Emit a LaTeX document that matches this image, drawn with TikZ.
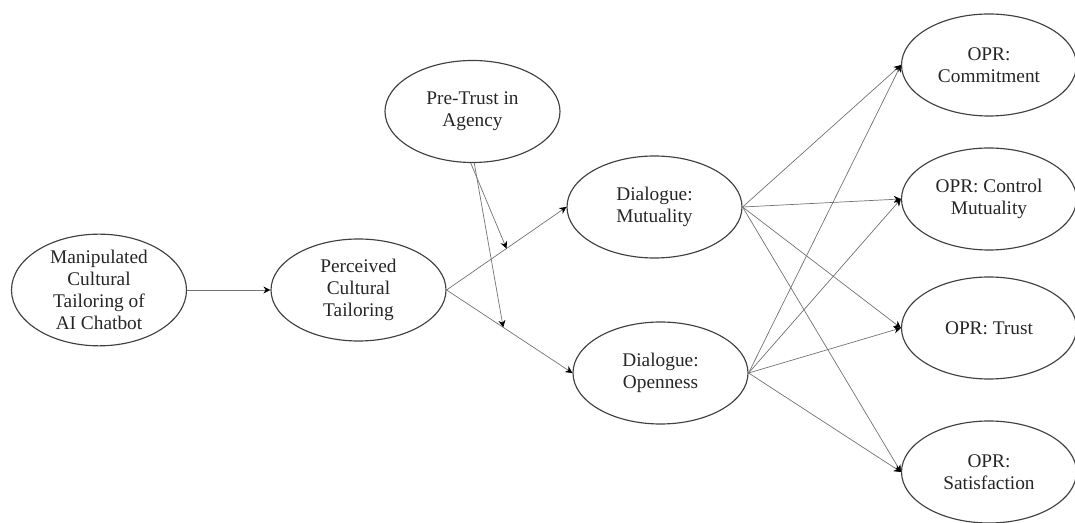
\documentclass[tikz,border=0pt]{standalone}
\usepackage{fontspec}
\setmainfont{Liberation Serif}
\usetikzlibrary{arrows.meta,shapes.geometric}

\begin{document}
\begin{tikzpicture}[>={Stealth[length=4pt,width=4pt,color=black]},
  construct/.style={ellipse, draw=black!75, line width=0.65pt, inner sep=0pt,
    minimum width=3.5cm, minimum height=2.04cm, align=center, text=black!85,
    font=\fontsize{11}{12.4}\selectfont},
  path/.style={->, draw=black!55, line width=0.4pt}]
  \useasboundingbox (0,0) rectangle (21.5,-10.46);
  % constructs
  \node[construct] (manip) at (1.98,-5.80) {Manipulated\\Cultural\\Tailoring of\\AI Chatbot};
  \node[construct] (perceived) at (7.17,-5.80) {Perceived\\Cultural\\Tailoring};
  \node[construct] (pretrust) at (9.45,-2.23) {Pre-Trust in\\Agency};
  \node[construct] (mutual) at (13.09,-4.14) {Dialogue:\\Mutuality};
  \node[construct] (open) at (13.21,-7.46) {Dialogue:\\Openness};
  \node[construct] (commit) at (19.78,-1.30) {OPR:\\Commitment};
  \node[construct] (control) at (19.78,-3.98) {OPR: Control\\Mutuality};
  \node[construct] (trust) at (19.78,-6.56) {OPR: Trust};
  \node[construct] (satis) at (19.78,-9.44) {OPR:\\Satisfaction};
  % paths
  \draw[path] (manip.east) -- (perceived.west);
  \draw[path] (perceived.east) -- (mutual.west) coordinate[pos=0.5] (modmut);
  \draw[path] (perceived.east) -- (open.west) coordinate[pos=0.45] (modopen);
  % moderation by pre-trust
  \draw[path] ([xshift=-1pt]pretrust.south) -- (modmut);
  \draw[path] ([xshift=1pt]pretrust.south) -- (modopen);
  % dialogue to relationship outcomes
  \foreach \d in {mutual,open}
    \foreach \o in {commit,control,trust,satis}
      \draw[path] (\d.east) -- (\o.west);
\end{tikzpicture}
\end{document}
